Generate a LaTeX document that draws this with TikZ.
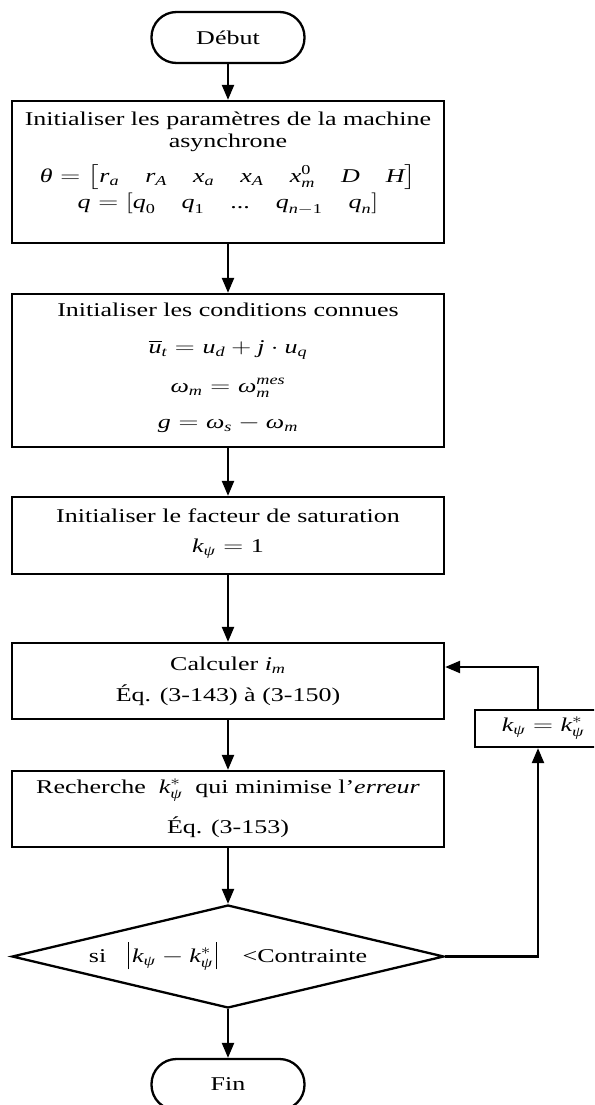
\documentclass[tikz,border=0pt]{standalone}
\usepackage{amsmath}
\usepackage{graphicx}
\usepackage{fontspec}
\setmainfont{Liberation Serif}
\usetikzlibrary{arrows.meta,shapes.geometric}
\newcommand{\vi}[1]{\textit{#1}}
\newcommand{\sx}[1]{\scalebox{1.333}[1]{#1}}
\newcommand{\txt}[1]{\sx{\begin{tabular}{@{}c@{}}#1\end{tabular}}}
\newcommand{\absbar}{\rule[-7pt]{0.8pt}{27pt}}
\tikzset{
  every node/.style={font=\fontsize{19.5}{22.5}\selectfont},
  box/.style={draw, line width=2.3pt, minimum width=432pt, inner sep=0pt},
  term/.style={draw, line width=2.3pt, rounded corners=25pt, minimum width=153pt, minimum height=51pt, inner sep=0pt},
  decision/.style={draw, line width=2.3pt, diamond, minimum width=432pt, minimum height=103pt, inner sep=0pt},
  conn/.style={line width=2.3pt},
  arr/.style={conn, -{Triangle[length=15pt,width=12pt]}},
}
\begin{document}
\begin{tikzpicture}[x=1pt,y=-1pt]
\clip (0,0) rectangle (594,1105);
\node[term] (deb) at (228,37.5) {\sx{Début}};
\node[box, minimum height=142pt] (b1) at (228,172) {\txt{Initialiser les paramètres de la machine\\
asynchrone\\[10pt]
$\vi{θ}=\bigl[\vi{r}_{\vi{a}}\quad\vi{r}_{\vi{A}}\quad\vi{x}_{\vi{a}}\quad\vi{x}_{\vi{A}}\quad\vi{x}_{\vi{m}}^{\text{0}}\quad\vi{D}\quad\vi{H}\bigr]$\\[4pt]
$\vi{q}=[\vi{q}_{\text{0}}\quad\vi{q}_{\text{1}}\quad\text{...}\quad\vi{q}_{\vi{n}-\text{1}}\quad\vi{q}_{\vi{n}}]$\\[19pt]}};
\node[box, minimum height=153pt] (b2) at (228,370.5) {\txt{Initialiser les conditions connues\\[14.5pt]
$\overline{\vi{u}}_{\vi{t}}=\vi{u}_{\vi{d}}+\vi{j}\cdot\vi{u}_{\vi{q}}$\\[16.5pt]
$\vi{ω}_{\vi{m}}=\vi{ω}_{\vi{m}}^{\vi{mes}}$\\[13.5pt]
$\vi{g}=\vi{ω}_{\vi{s}}-\vi{ω}_{\vi{m}}$\\[6pt]}};
\node[box, minimum height=77pt] (b3) at (228,535.5) {\txt{Initialiser le facteur de saturation\\[7.5pt]
$\vi{k}_{\vi{ψ}}=\text{1}$\\[6pt]}};
\node[box, minimum height=76pt] (b4) at (228,681) {\txt{Calculer $\vi{i}_{\vi{m}}$\\[7.5pt]
Éq. (3-143) à (3-150)}};
\node[box, minimum height=76pt] (b5) at (228,809) {\txt{Recherche\enspace$\vi{k}^{*}_{\vi{ψ}}$\enspace qui minimise l'\textit{erreur}\\[16.5pt]
Éq. (3-153)}};
\node[decision] (dia) at (228,956.5) {\makebox[0pt]{\sx{si\hspace{0.85em}\absbar\hspace{2pt}$\vi{k}_{\vi{ψ}}-\vi{k}^{*}_{\vi{ψ}}$\hspace{2pt}\absbar\hspace{1em}<Contrainte}}};
\node[term] (fin) at (228,1084.5) {\sx{Fin}};
\node[box, minimum width=126pt, minimum height=37pt] (kb) at (538,728.5) {\hspace{10pt}\sx{$\vi{k}_{\vi{ψ}}=\vi{k}^{*}_{\vi{ψ}}$}};
\draw[arr] (deb) -- (b1);
\draw[arr] (b1) -- (b2);
\draw[arr] (b2) -- (b3);
\draw[arr] (b3) -- (b4);
\draw[arr] (b4) -- (b5);
\draw[arr] (b5) -- (dia);
\draw[arr] (dia) -- (fin);
\draw[arr] (dia.east) -| (kb.south);
\coordinate (fb) at (538,667);
\draw[arr] (kb.north) -- (fb) -- (b4.east |- fb);
\end{tikzpicture}
\end{document}
